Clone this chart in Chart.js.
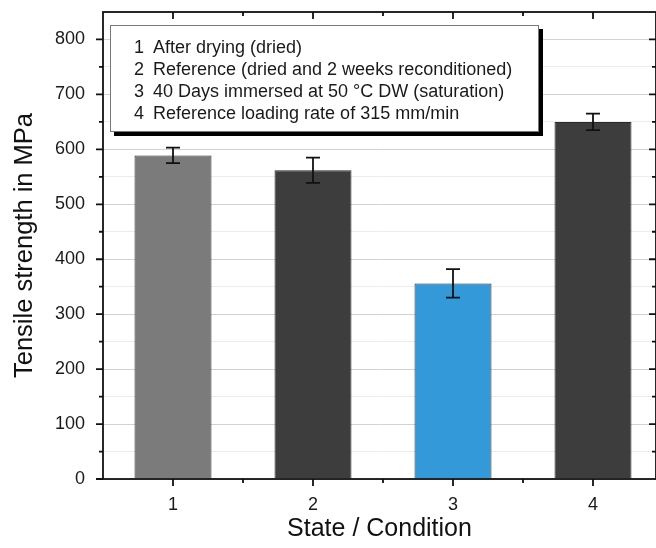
<!DOCTYPE html>
<html>
<head>
<meta charset="utf-8">
<script src="https://cdn.jsdelivr.net/npm/chart.js@4/dist/chart.umd.min.js"></script>
<style>
  html, body { margin: 0; padding: 0; background: #fff; }
  #wrap { width: 656px; height: 548px; }
</style>
</head>
<body>
<div id="wrap"><canvas id="chart"></canvas></div>
<script>
// data
const states = [1, 2, 3, 4];
const strength = [589, 562, 356, 650];
const strengthErr = [14, 23, 26, 15];
const barColors = ['#7b7b7b', '#3d3d3d', '#3399d9', '#3d3d3d'];
const legendNumbers = ['1', '2', '3', '4'];
const legendLines = [
  'After drying (dried)',
  'Reference (dried and 2 weeks reconditioned)',
  '40 Days immersed at 50 \u00b0C DW (saturation)',
  'Reference loading rate of 315 mm/min'
];

const FONT = 'Arial, "Liberation Sans", sans-serif';
Chart.defaults.font.family = FONT;
Chart.defaults.color = '#1a1a1a';

// error bars drawn through the scales
const errorBars = {
  id: 'errorBars',
  afterDatasetsDraw(chart) {
    const { ctx, scales: { x, y } } = chart;
    ctx.save();
    ctx.strokeStyle = '#111';
    ctx.lineWidth = 1.8;
    states.forEach((s, i) => {
      const px = x.getPixelForValue(s);
      const top = y.getPixelForValue(strength[i] + strengthErr[i]);
      const bot = y.getPixelForValue(strength[i] - strengthErr[i]);
      ctx.beginPath();
      ctx.moveTo(px, top); ctx.lineTo(px, bot);
      ctx.moveTo(px - 7, top); ctx.lineTo(px + 7, top);
      ctx.moveTo(px - 7, bot); ctx.lineTo(px + 7, bot);
      ctx.stroke();
    });
    ctx.restore();
  }
};

// box frame with ticks on all four sides (outer on left/bottom, inner on top/right)
const frame = {
  id: 'frame',
  afterDraw(chart) {
    const { ctx, chartArea: a, scales: { x, y } } = chart;
    ctx.save();
    ctx.strokeStyle = '#111';
    ctx.lineWidth = 1.8;
    ctx.strokeRect(a.left, a.top, a.right - a.left, a.bottom - a.top);
    ctx.beginPath();
    const xMarks = [];
    states.forEach(s => { xMarks.push([s, 7]); xMarks.push([s + 0.5, 4]); });
    xMarks.forEach(([v, len]) => {
      if (v <= x.min || v >= x.max) return;
      const px = x.getPixelForValue(v);
      ctx.moveTo(px, a.bottom); ctx.lineTo(px, a.bottom + len);
      ctx.moveTo(px, a.top); ctx.lineTo(px, a.top + len);
    });
    y.ticks.forEach(t => {
      if (t.value <= y.min || t.value >= y.max) return;
      const py = y.getPixelForValue(t.value);
      const len = t.value % 100 === 0 ? 7 : 4;
      ctx.moveTo(a.left, py); ctx.lineTo(a.left - len, py);
      ctx.moveTo(a.right, py); ctx.lineTo(a.right - len, py);
    });
    // zero tick on the left
    const p0 = y.getPixelForValue(0);
    ctx.moveTo(a.left, p0); ctx.lineTo(a.left - 7, p0);
    ctx.stroke();
    ctx.restore();
  }
};

// text box in the upper left of the plot
const noteBox = {
  id: 'noteBox',
  afterDraw(chart) {
    const { ctx, chartArea: a } = chart;
    const left = a.left + 7, top = a.top + 13, w = 429, h = 107;
    ctx.save();
    ctx.fillStyle = '#000';
    ctx.fillRect(left + 4, top + 4, w, h);
    ctx.fillStyle = '#fff';
    ctx.fillRect(left, top, w, h);
    ctx.strokeStyle = '#777';
    ctx.lineWidth = 1;
    ctx.strokeRect(left + 0.5, top + 0.5, w - 1, h - 1);
    ctx.fillStyle = '#1a1a1a';
    ctx.font = '18px ' + FONT;
    ctx.textBaseline = 'alphabetic';
    legendLines.forEach((txt, i) => {
      const by = top + 27.5 + i * 22.3;
      ctx.fillText(legendNumbers[i], left + 24, by);
      ctx.fillText(txt, left + 43, by);
    });
    ctx.restore();
  }
};

new Chart(document.getElementById('chart'), {
  type: 'bar',
  data: {
    datasets: [{
      data: states.map((s, i) => ({ x: s, y: strength[i] })),
      backgroundColor: barColors,
      borderColor: '#2a2a2a',
      borderWidth: 1,
      categoryPercentage: 1,
      barPercentage: 0.55
    }]
  },
  options: {
    responsive: true,
    maintainAspectRatio: false,
    animation: false,
    layout: { padding: { top: 12, right: 0, left: 0, bottom: 0 } },
    plugins: { legend: { display: false }, tooltip: { enabled: false } },
    scales: {
      x: {
        type: 'linear',
        offset: false,
        min: 0.5,
        max: 4.45,
        grid: { display: false, drawTicks: false, offset: false },
        border: { display: false },
        ticks: {
          stepSize: 1,
          autoSkip: false,
          padding: 15,
          font: { size: 18 },
          callback: v => Number.isInteger(v) ? v : ''
        },
        // keep only the category ticks so the bar width follows their spacing
        afterBuildTicks: s => { s.ticks = s.ticks.filter(t => states.includes(t.value)); },
        title: {
          display: true,
          text: 'State / Condition',
          font: { size: 25 },
          color: '#111',
          padding: { top: 0, bottom: 4 }
        },
        afterFit: s => { s.height = 69; s.paddingLeft = 0; s.paddingRight = 0; }
      },
      y: {
        min: 0,
        max: 850,
        grid: {
          drawTicks: false,
          lineWidth: 1,
          color: c => (c.tick && c.tick.value % 100 === 0) ? '#d2d2d2' : '#ececec'
        },
        border: { display: false },
        ticks: {
          stepSize: 50,
          autoSkip: false,
          padding: 18,
          font: { size: 18 },
          callback: v => v % 100 === 0 ? v : ''
        },
        title: {
          display: true,
          text: 'Tensile strength in MPa',
          font: { size: 25.5 },
          color: '#111',
          padding: { top: 10, bottom: 0 }
        },
        afterFit: s => { s.width = 103; s.paddingTop = 0; s.paddingBottom = 0; }
      }
    }
  },
  plugins: [errorBars, frame, noteBox]
});
</script>
</body>
</html>
